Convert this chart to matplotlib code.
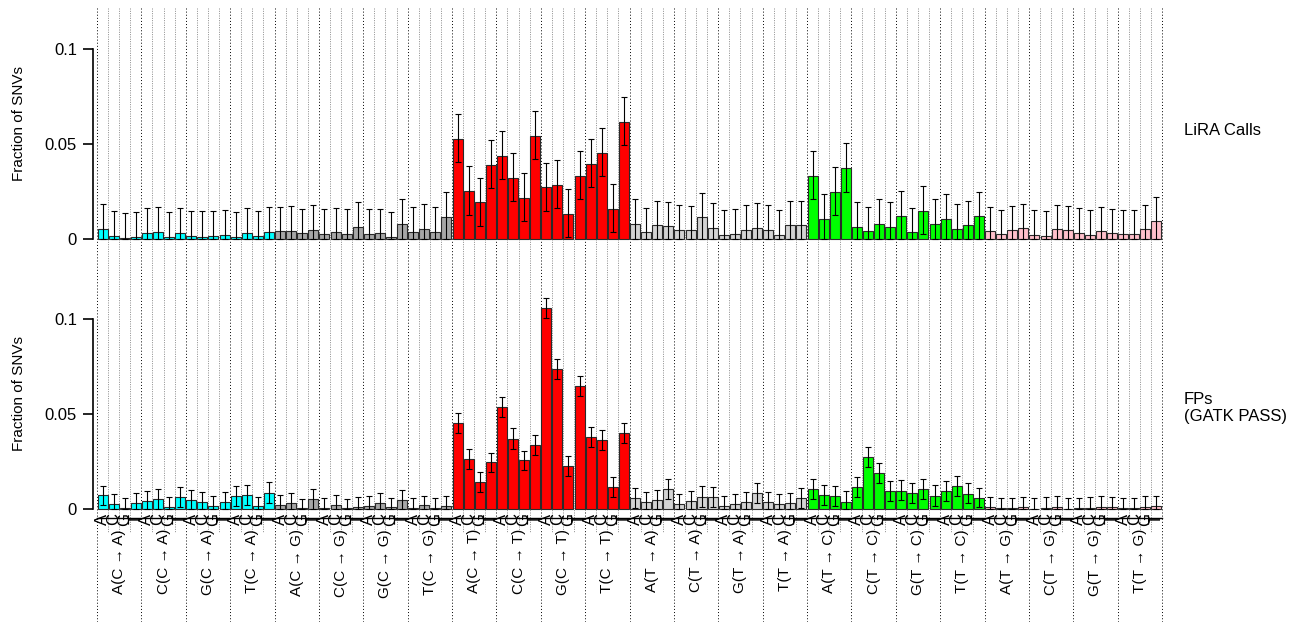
import matplotlib
matplotlib.use('Agg')
import matplotlib.pyplot as plt
import numpy as np
from matplotlib.transforms import blended_transform_factory

plt.rcParams['font.family'] = ['Liberation Sans', 'DejaVu Sans']

# ---------------- data ----------------
substitutions = ['C→A', 'C→G', 'C→T', 'T→A', 'T→C', 'T→G']
bases = ['A', 'C', 'G', 'T']
sub_colors = ['#00FFFF', '#A6A6A6', '#FF0000', '#D3D3D3', '#00FF00', '#FFC0CB']
panel_titles = ['LiRA Calls', 'FPs\n(GATK PASS)']
y_ticks = [0, 0.05, 0.1]
y_ticklabels = ['0', '0.05', '0.1']
y_label = 'Fraction of SNVs'

lira_vals = [
    0.0049, 0.0012, 0.0002, 0.0009, 0.0030, 0.0037, 0.0009, 0.0030, 0.0012, 0.0009, 0.0012, 0.0019, 0.0009, 0.0030, 0.0012, 0.0037,
    0.0039, 0.0040, 0.0028, 0.0048, 0.0025, 0.0034, 0.0025, 0.0060, 0.0025, 0.0028, 0.0011, 0.0078, 0.0037, 0.0049, 0.0034, 0.0115,
    0.0525, 0.0251, 0.0192, 0.0388, 0.0436, 0.0322, 0.0214, 0.0543, 0.0271, 0.0285, 0.0130, 0.0330, 0.0395, 0.0453, 0.0158, 0.0617,
    0.0077, 0.0033, 0.0070, 0.0065, 0.0047, 0.0044, 0.0112, 0.0058, 0.0019, 0.0026, 0.0047, 0.0058, 0.0047, 0.0019, 0.0070, 0.0070,
    0.0332, 0.0104, 0.0248, 0.0371, 0.0063, 0.0039, 0.0076, 0.0063, 0.0121, 0.0033, 0.0146, 0.0076, 0.0104, 0.0049, 0.0070, 0.0118,
    0.0039, 0.0023, 0.0044, 0.0054, 0.0019, 0.0016, 0.0049, 0.0044, 0.0030, 0.0021, 0.0039, 0.0028, 0.0023, 0.0023, 0.0049, 0.0091,
]
lira_hi = [
    0.0182, 0.0147, 0.0134, 0.0141, 0.0160, 0.0166, 0.0140, 0.0160, 0.0147, 0.0147, 0.0147, 0.0150, 0.0140, 0.0160, 0.0147, 0.0168,
    0.0166, 0.0171, 0.0157, 0.0177, 0.0155, 0.0164, 0.0155, 0.0193, 0.0155, 0.0157, 0.0141, 0.0208, 0.0166, 0.0182, 0.0166, 0.0246,
    0.0657, 0.0381, 0.0322, 0.0518, 0.0566, 0.0452, 0.0344, 0.0671, 0.0401, 0.0413, 0.0260, 0.0460, 0.0524, 0.0582, 0.0286, 0.0745,
    0.0207, 0.0163, 0.0200, 0.0192, 0.0176, 0.0174, 0.0239, 0.0186, 0.0149, 0.0156, 0.0176, 0.0186, 0.0176, 0.0149, 0.0200, 0.0200,
    0.0462, 0.0234, 0.0376, 0.0503, 0.0193, 0.0169, 0.0207, 0.0193, 0.0250, 0.0163, 0.0276, 0.0207, 0.0234, 0.0181, 0.0200, 0.0246,
    0.0169, 0.0153, 0.0172, 0.0183, 0.0149, 0.0146, 0.0179, 0.0172, 0.0160, 0.0149, 0.0169, 0.0156, 0.0153, 0.0153, 0.0179, 0.0220,
]
lira_lo = [
    0.0, 0.0, 0.0, 0.0, 0.0, 0.0, 0.0, 0.0, 0.0, 0.0, 0.0, 0.0, 0.0, 0.0, 0.0, 0.0,
    0.0, 0.0, 0.0, 0.0, 0.0, 0.0, 0.0, 0.0, 0.0, 0.0, 0.0, 0.0, 0.0, 0.0, 0.0, 0.0,
    0.0404, 0.0127, 0.0067, 0.0265, 0.0313, 0.0197, 0.0091, 0.0418, 0.0146, 0.0160, 0.0007, 0.0207, 0.0271, 0.0329, 0.0035, 0.0494,
    0.0, 0.0, 0.0, 0.0, 0.0, 0.0, 0.0, 0.0, 0.0, 0.0, 0.0, 0.0, 0.0, 0.0, 0.0, 0.0,
    0.0209, 0.0, 0.0125, 0.0248, 0.0, 0.0, 0.0, 0.0, 0.0, 0.0, 0.0023, 0.0, 0.0, 0.0, 0.0, 0.0,
    0.0, 0.0, 0.0, 0.0, 0.0, 0.0, 0.0, 0.0, 0.0, 0.0, 0.0, 0.0, 0.0, 0.0, 0.0, 0.0,
]

fp_vals = [
    0.0071, 0.0025, 0.0004, 0.0030, 0.0039, 0.0053, 0.0011, 0.0060, 0.0046, 0.0037, 0.0014, 0.0035, 0.0067, 0.0074, 0.0012, 0.0085,
    0.0018, 0.0030, 0.0002, 0.0049, 0.0005, 0.0018, 0.0002, 0.0009, 0.0016, 0.0028, 0.0007, 0.0046, 0.0005, 0.0018, 0.0002, 0.0014,
    0.0454, 0.0261, 0.0143, 0.0245, 0.0535, 0.0368, 0.0255, 0.0335, 0.1058, 0.0738, 0.0224, 0.0646, 0.0377, 0.0361, 0.0113, 0.0398,
    0.0058, 0.0037, 0.0046, 0.0104, 0.0023, 0.0042, 0.0063, 0.0060, 0.0014, 0.0026, 0.0033, 0.0085, 0.0033, 0.0025, 0.0032, 0.0056,
    0.0106, 0.0070, 0.0065, 0.0037, 0.0116, 0.0271, 0.0187, 0.0092, 0.0095, 0.0081, 0.0102, 0.0069, 0.0092, 0.0120, 0.0079, 0.0058,
    0.0007, 0.0002, 0.0002, 0.0007, 0.0000, 0.0004, 0.0007, 0.0000, 0.0002, 0.0002, 0.0007, 0.0007, 0.0002, 0.0002, 0.0009, 0.0014,
]
fp_hi = [
    0.0122, 0.0078, 0.0057, 0.0085, 0.0092, 0.0106, 0.0064, 0.0113, 0.0097, 0.0090, 0.0065, 0.0087, 0.0122, 0.0127, 0.0064, 0.0140,
    0.0071, 0.0083, 0.0053, 0.0102, 0.0057, 0.0071, 0.0053, 0.0060, 0.0067, 0.0081, 0.0058, 0.0097, 0.0058, 0.0069, 0.0055, 0.0065,
    0.0507, 0.0313, 0.0195, 0.0296, 0.0588, 0.0423, 0.0306, 0.0386, 0.1111, 0.0790, 0.0276, 0.0699, 0.0430, 0.0414, 0.0165, 0.0451,
    0.0111, 0.0090, 0.0099, 0.0155, 0.0076, 0.0095, 0.0118, 0.0113, 0.0067, 0.0079, 0.0086, 0.0137, 0.0086, 0.0077, 0.0085, 0.0111,
    0.0158, 0.0123, 0.0118, 0.0092, 0.0169, 0.0324, 0.0239, 0.0144, 0.0150, 0.0134, 0.0155, 0.0123, 0.0144, 0.0173, 0.0134, 0.0111,
    0.0063, 0.0058, 0.0058, 0.0063, 0.0056, 0.0060, 0.0065, 0.0056, 0.0058, 0.0060, 0.0065, 0.0063, 0.0058, 0.0058, 0.0065, 0.0069,
]
fp_lo = [
    0.0018, 0.0, 0.0, 0.0, 0.0, 0.0, 0.0, 0.0007, 0.0, 0.0, 0.0, 0.0, 0.0014, 0.0021, 0.0, 0.0032,
    0.0, 0.0, 0.0, 0.0, 0.0, 0.0, 0.0, 0.0, 0.0, 0.0, 0.0, 0.0, 0.0, 0.0, 0.0, 0.0,
    0.0401, 0.0210, 0.0090, 0.0192, 0.0482, 0.0315, 0.0202, 0.0282, 0.1005, 0.0685, 0.0171, 0.0593, 0.0324, 0.0308, 0.0060, 0.0345,
    0.0005, 0.0, 0.0, 0.0051, 0.0, 0.0, 0.0011, 0.0007, 0.0, 0.0, 0.0, 0.0032, 0.0, 0.0, 0.0, 0.0003,
    0.0053, 0.0018, 0.0012, 0.0, 0.0063, 0.0218, 0.0134, 0.0039, 0.0044, 0.0028, 0.0049, 0.0016, 0.0039, 0.0067, 0.0028, 0.0007,
    0.0, 0.0, 0.0, 0.0, 0.0, 0.0, 0.0, 0.0, 0.0, 0.0, 0.0, 0.0, 0.0, 0.0, 0.0, 0.0,
]

# ---------------- layout ----------------
W, H = 1294, 622
DPI = 100
X0, X1 = 97.0, 1162.0           # pixel extent of the bar area
Y_TOP = 8.0                      # top of dotted guide lines
PANEL_ZERO = [238.7, 508.7]      # pixel y of value 0 for each panel
PANEL_H = 230.7
YMAX = 0.1216

n_ctx = len(bases) * len(bases)
n_bars = len(substitutions) * n_ctx
x = np.arange(n_bars)
bar_colors = [sub_colors[i // n_ctx] for i in range(n_bars)]

fig = plt.figure(figsize=(W / DPI, H / DPI), dpi=DPI)
fig.patch.set_facecolor('white')

# background guide lines
bg = fig.add_axes([X0 / W, 0, (X1 - X0) / W, 1], zorder=0)
bg.set_xlim(-0.5, n_bars - 0.5)
bg.set_ylim(H, 0)
bg.axis('off')
for b in range(n_bars + 1):
    xb = b - 0.5
    if b % 4 == 0:
        bg.plot([xb, xb], [Y_TOP, H], color='black', lw=0.7,
                linestyle=(0, (1, 2.2)), clip_on=False)
    else:
        bg.plot([xb, xb], [Y_TOP, 533], color='#8a8a8a', lw=0.7,
                linestyle=(0, (1, 1.4)), clip_on=False)

datasets = [(lira_vals, lira_lo, lira_hi), (fp_vals, fp_lo, fp_hi)]
axes = []
for p, (vals, lo, hi) in enumerate(datasets):
    vals = np.array(vals); lo = np.array(lo); hi = np.array(hi)
    ax = fig.add_axes([X0 / W, 1 - PANEL_ZERO[p] / H, (X1 - X0) / W, PANEL_H / H], zorder=1)
    ax.set_facecolor('none')
    ax.set_xlim(-0.5, n_bars - 0.5)
    ax.set_ylim(0, YMAX)
    ax.bar(x, vals, width=0.9, color=bar_colors, edgecolor='#2a2a2a',
           linewidth=0.8, zorder=2, clip_on=False)
    ax.errorbar(x, vals, yerr=[vals - lo, hi - vals], fmt='none', ecolor='black',
                elinewidth=0.8, capsize=2.2, capthick=0.8, zorder=3, clip_on=False)
    for s in ['top', 'right']:
        ax.spines[s].set_visible(False)
    ax.spines['left'].set_position(('outward', 2.9))
    ax.spines['left'].set_bounds(0, 0.1)
    ax.spines['left'].set_linewidth(1.2)
    ax.set_yticks(y_ticks)
    ax.set_yticklabels(y_ticklabels)
    ax.tick_params(axis='y', length=7.2, width=1.2, pad=4.3, labelsize=12)
    ax.set_xticks([])
    if p == 0:
        ax.spines['bottom'].set_visible(False)
    else:
        ax.spines['bottom'].set_position(('outward', 6.7))
        ax.spines['bottom'].set_bounds(-0.5, n_bars - 0.5)
        ax.spines['bottom'].set_linewidth(1.0)
    axes.append(ax)

    # y label centered on the panel
    fig.text(19 / W, 1 - (PANEL_ZERO[p] - PANEL_H / 2) / H, y_label, rotation=90,
             ha='center', va='center', fontsize=11)

    # panel title on the right
    base_y = 135 if p == 0 else 404
    for k, line in enumerate(panel_titles[p].split('\n')):
        fig.text(1184 / W, 1 - (base_y + k * 16.5) / H, line, ha='left',
                 va='baseline', fontsize=12)

# x labels under bottom panel
axb = axes[1]
trans = blended_transform_factory(axb.transData, fig.transFigure)
for i in range(n_bars):
    axb.text(i, 1 - 519 / H, bases[i % 4], transform=trans, rotation=90,
             ha='center', va='center', fontsize=12, clip_on=False)
for g in range(len(substitutions) * len(bases)):
    sub = substitutions[g // 4].replace('→', ' → ')
    label = f"{bases[g % 4]}({sub})"
    axb.text(4 * g + 1.5, 1 - 529 / H, label, transform=trans, rotation=90,
             ha='center', va='top', fontsize=11, clip_on=False)

fig.savefig('out.png', dpi=DPI, facecolor='white')
